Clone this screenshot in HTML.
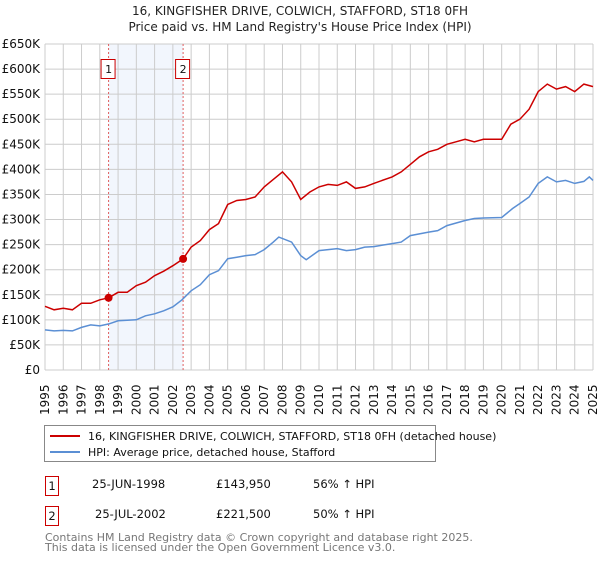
<!DOCTYPE html>
<html><head><meta charset="utf-8"><style>
body{margin:0;background:#fff;font-family:"DejaVu Sans","Liberation Sans",sans-serif}
svg text{font-family:"DejaVu Sans","Liberation Sans",sans-serif}
</style></head><body>
<svg id="chart" width="600" height="560">
<text x="300" y="15" text-anchor="middle" font-size="12" fill="#222">16, KINGFISHER DRIVE, COLWICH, STAFFORD, ST18 0FH</text>
<text x="300" y="31" text-anchor="middle" font-size="12" fill="#222">Price paid vs. HM Land Registry's House Price Index (HPI)</text>
<g id="grid"></g><g id="marks"></g><g id="axes"></g>
<g>
<rect x="44.5" y="425.5" width="391" height="36" fill="#fff" stroke="#888"/>
<line x1="50" y1="436" x2="80" y2="436" stroke="#cc0000" stroke-width="2"/>
<text x="88" y="440" font-size="11" fill="#111">16, KINGFISHER DRIVE, COLWICH, STAFFORD, ST18 0FH (detached house)</text>
<line x1="50" y1="452" x2="80" y2="452" stroke="#5b8fd4" stroke-width="2"/>
<text x="88" y="456" font-size="11" fill="#111">HPI: Average price, detached house, Stafford</text>
</g>
<g font-size="11.5" fill="#111">
<rect x="45.5" y="476.5" width="13" height="19" fill="none" stroke="#cc0000"/>
<text x="52" y="490" text-anchor="middle">1</text>
<text x="92" y="488">25-JUN-1998</text><text x="216" y="488">£143,950</text><text x="313" y="488">56% ↑ HPI</text>
<rect x="45.5" y="506.5" width="13" height="19" fill="none" stroke="#cc0000"/>
<text x="52" y="520" text-anchor="middle">2</text>
<text x="95" y="518">25-JUL-2002</text><text x="216" y="518">£221,500</text><text x="313" y="518">50% ↑ HPI</text>
</g>
<text x="45" y="541" font-size="11" fill="#777">Contains HM Land Registry data © Crown copyright and database right 2025.</text>
<text x="45" y="551" font-size="11" fill="#777">This data is licensed under the Open Government Licence v3.0.</text>
</svg>
<script>
const years=[1995,1996,1997,1998,1999,2000,2001,2002,2003,2004,2005,2006,2007,2008,2009,2010,2011,2012,2013,2014,2015,2016,2017,2018,2019,2020,2021,2022,2023,2024,2025];
const yTicks=[0,50,100,150,200,250,300,350,400,450,500,550,600,650];
const hpiT=[1995,1995.5,1996,1996.5,1997,1997.5,1998,1998.5,1999,1999.5,2000,2000.5,2001,2001.5,2002,2002.5,2003,2003.5,2004,2004.5,2005,2005.5,2006,2006.5,2007,2007.5,2007.8,2008.5,2009,2009.3,2010,2010.5,2011,2011.5,2012,2012.5,2013,2014,2014.5,2015,2016,2016.5,2017,2018,2018.5,2019,2020,2020.6,2021,2021.5,2022,2022.5,2023,2023.5,2024,2024.5,2024.8,2025];
const hpiV=[80,78,79,78,85,90,88,92,98,99,100,108,112,118,126,140,158,170,190,198,222,225,228,230,240,255,265,255,228,220,238,240,242,238,240,245,246,252,255,268,275,278,288,298,302,303,304,322,332,345,372,385,375,378,372,376,385,378];
const redT=[1995,1995.5,1996,1996.5,1997,1997.5,1998,1998.48,1999,1999.5,2000,2000.5,2001,2001.5,2002,2002.56,2003,2003.5,2004,2004.5,2005,2005.5,2006,2006.5,2007,2007.5,2008,2008.5,2009,2009.5,2010,2010.5,2011,2011.5,2012,2012.5,2013,2014,2014.5,2015,2015.5,2016,2016.5,2017,2017.5,2018,2018.5,2019,2019.5,2020,2020.5,2021,2021.5,2022,2022.5,2023,2023.5,2024,2024.5,2025];
const redV=[127,120,123,120,133,133,140,143.95,155,155,168,175,188,197,208,221.5,245,258,280,292,330,338,340,345,365,380,395,375,340,355,365,370,368,375,362,365,372,385,395,410,425,435,440,450,455,460,455,460,460,460,490,500,520,555,570,560,565,555,570,565];
const saleT=[1998.48,2002.56];
const saleV=[143.95,221.5];
const NS="http://www.w3.org/2000/svg";
const X0=45,X1=593,Y0=370,Y1=44;
const xs=t=>X0+(t-1995)/30*(X1-X0);
const ys=v=>Y0-v/650*(Y0-Y1);
function mk(tag,attrs,parent,txt){const e=document.createElementNS(NS,tag);for(const k in attrs)e.setAttribute(k,attrs[k]);if(txt!==undefined)e.textContent=txt;parent.appendChild(e);return e;}
const grid=document.getElementById('grid'),marks=document.getElementById('marks'),axes=document.getElementById('axes');
const shade=mk('rect',{x:xs(saleT[0]),y:Y1,width:xs(saleT[1])-xs(saleT[0]),height:Y0-Y1,fill:'#f2f6fd'},grid);


years.forEach(y=>{const l=mk('line',{x1:xs(y),x2:xs(y),y1:Y1,y2:Y0,stroke:'#cccccc'},grid);


const t=mk('text',{x:0,y:0,'font-size':12,fill:'#111',transform:`translate(${xs(y)+4},${Y0+45}) rotate(-90)`},axes,y);

});
yTicks.forEach(v=>{const l=mk('line',{x1:X0,x2:X1,y1:ys(v),y2:ys(v),stroke:'#cccccc'},grid);


const t=mk('text',{x:40,y:ys(v)+4,'font-size':12,fill:'#111','text-anchor':'end'},axes,v===0?'£0':'£'+v+'K');

});
saleT.forEach((s,i)=>{const l=mk('line',{x1:xs(s),x2:xs(s),y1:Y1,y2:Y0,stroke:'#e06060','stroke-dasharray':'2,2'},marks);


const r=mk('rect',{x:xs(s)-7.5,y:59.5,width:14,height:19,fill:'#fff',stroke:'#cc0000'},marks);


mk('text',{x:xs(s),y:73,'font-size':11,'text-anchor':'middle',fill:'#111'},marks,String(i+1));});
const pts=(T,V)=>T.map((t,i)=>xs(t).toFixed(1)+','+ys(V[i]).toFixed(1)).join(' ');
const hp=mk('polyline',{points:pts(hpiT,hpiV),fill:'none',stroke:'#5b8fd4','stroke-width':1.5},marks);


const rp=mk('polyline',{points:pts(redT,redV),fill:'none',stroke:'#cc0000','stroke-width':1.5},marks);


saleT.forEach((s,i)=>{const c=mk('circle',{cx:xs(s),cy:ys(saleV[i]),r:4,fill:'#cc0000'},marks);

});
</script>
</body></html>
